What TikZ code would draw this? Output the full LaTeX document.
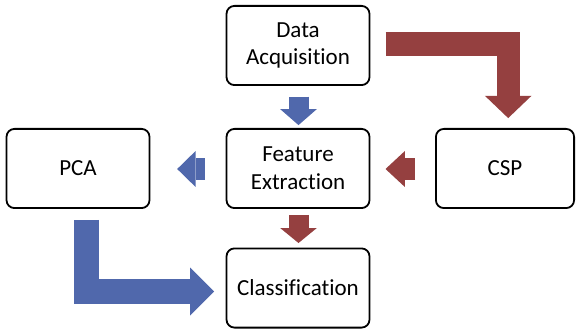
\documentclass[tikz,border=0pt]{standalone}
\usepackage{fontspec}
\setmainfont[Ligatures=NoCommon]{Carlito}
\usetikzlibrary{arrows.meta,calc}
\definecolor{ablue}{HTML}{5068AC}
\definecolor{ared}{HTML}{954040}
\begin{document}
\begin{tikzpicture}[x=1pt,y=-1pt,
  box/.style={draw=black, line width=1.8pt, rounded corners=8pt, fill=white,
    minimum width=143pt, minimum height=79.2pt, inner sep=0pt, align=center,
    font=\fontsize{23}{27.6}\selectfont},
  blk/.style={line width=#1, line cap=butt, line join=miter},
]
\useasboundingbox (0,0) rectangle (576,334);

\node[box] (da)  at (298,45.5)  {Data\\Acquisition};
\node[box] (fe)  at (298,168.5) {Feature\\Extraction};
\node[box] (pca) at (78,168.5)  {PCA};
\node[box, minimum width=138.2pt] (csp) at (505,168.5) {CSP};
\node[box] (cl)  at (298,288)   {Classification};

% Data Acquisition -> Feature Extraction (blue)
\draw[blk=20pt, ablue, -{Triangle[length=16pt,width=36.7pt,line width=0pt]}]
  ($(da.south)+(0.5,10.6)$) -- ($(fe.north)+(0.5,-2.9)$);
% Feature Extraction -> Classification (red)
\draw[blk=20pt, ared, -{Triangle[length=15pt,width=36.7pt,line width=0pt]}]
  ($(fe.south)+(0.5,5.9)$) -- ($(cl.north)+(0.5,-4.5)$);
% Feature Extraction -> PCA (blue)
\draw[blk=22pt, ablue, -{Triangle[length=18.4pt,width=36pt,line width=0pt]}]
  ($(fe.west)+(-20.8,0.5)$) -- ($(pca.east)+(26.8,0.5)$);
% CSP -> Feature Extraction (red)
\draw[blk=22pt, ared, -{Triangle[length=19.4pt,width=36pt,line width=0pt]}]
  ($(csp.west)+(-19.9,0.5)$) -- ($(fe.east)+(15.1,0.5)$);
% Data Acquisition -> CSP (red L)
\draw[blk=23.4pt, ared, -{Triangle[length=22.3pt,width=46.6pt,line width=0pt]}]
  ($(da.east)+(15.1,-1.5)$) -| ($(csp.north)+(3.2,-9.9)$);
% PCA -> Classification (blue L)
\draw[blk=24.5pt, ablue, -{Triangle[length=24pt,width=48pt,line width=0pt]}]
  ($(pca.south)+(8.4,10.9)$) |- ($(cl.west)+(-11.5,3.5)$);
\end{tikzpicture}
\end{document}
